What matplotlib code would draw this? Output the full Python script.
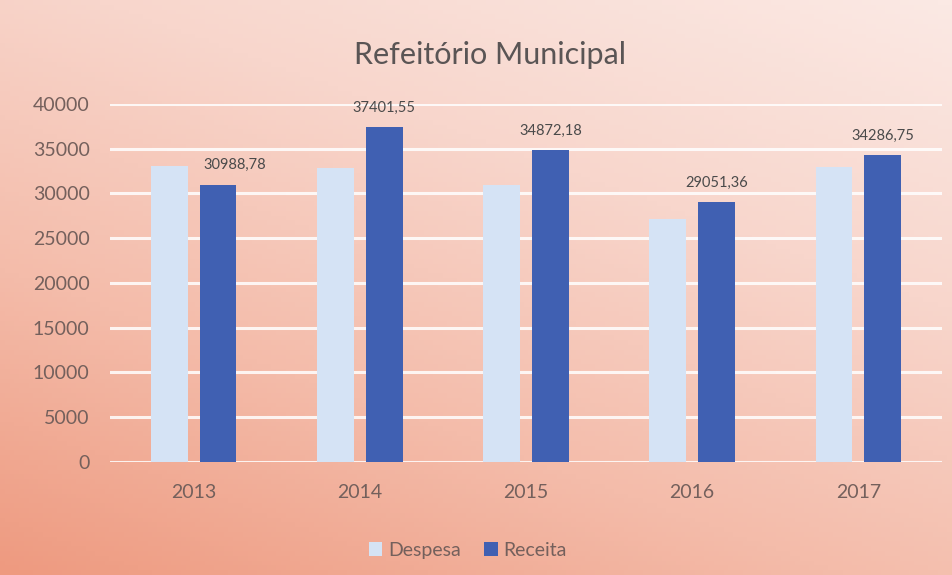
import numpy as np
import matplotlib
matplotlib.use("Agg")
import matplotlib.pyplot as plt
from matplotlib.colors import LinearSegmentedColormap

plt.rcParams['font.family'] = ['Lato', 'DejaVu Sans']

years = ["2013", "2014", "2015", "2016", "2017"]
despesa = [33100, 32800, 31000, 27200, 33000]
receita = [30988.78, 37401.55, 34872.18, 29051.36, 34286.75]
yticks = [0, 5000, 10000, 15000, 20000, 25000, 30000, 35000, 40000]

c_desp = '#D5E3F5'
c_rec = '#4060B2'
txt = '#74605C'

fig = plt.figure(figsize=(9.52, 5.75), dpi=100)

# gradient background: light at top / right, salmon at bottom-left
bg = fig.add_axes([0, 0, 1, 1], zorder=-10)
nx, ny = 200, 120
xx, yy = np.meshgrid(np.linspace(0, 1, nx), np.linspace(0, 1, ny))  # yy: 0 bottom, 1 top
d = 0.45 * (1 - xx) + 0.75 * (1 - yy)
d = np.clip(d / 1.2, 0, 1)
cmap = LinearSegmentedColormap.from_list('bg', ['#FBE9E4', '#F8D6CC', '#F4BCAA', '#EE9A80'])
bg.imshow(d, cmap=cmap, aspect='auto', extent=[0, 1, 0, 1], origin='lower', vmin=0, vmax=1)
bg.set_axis_off()

ax = fig.add_axes([0.116, 0.197, 0.873, 0.622])
ax.set_facecolor('none')
x = np.arange(len(years))
w = 0.222
off = 0.147
ax.bar(x - off, despesa, w, color=c_desp, label='Despesa', zorder=3)
ax.bar(x + off, receita, w, color=c_rec, label='Receita', zorder=3)

for i, v in enumerate(receita):
    lab = f"{v:.2f}".replace('.', ',')
    dx = 12 if i == 0 else 0
    ax.annotate(lab, (x[i] + off, v), xytext=(dx, 9), textcoords='offset points',
                ha='center', va='bottom', fontsize=10.5, color='#4A4A4A')

ax.set_xlim(-0.5, len(years) - 0.5)
ax.set_ylim(0, 40000)
ax.set_yticks(yticks)
ax.set_yticklabels([str(v) for v in yticks])
ax.set_xticks(x)
ax.set_xticklabels(years)
ax.tick_params(axis='both', length=0, labelsize=14, labelcolor=txt)
ax.tick_params(axis='y', pad=15)
ax.tick_params(axis='x', pad=16)
ax.grid(axis='y', color='white', linewidth=2.2, alpha=0.85, zorder=1)
for s in ax.spines.values():
    s.set_visible(False)

fig.text(0.515, 0.905, "Refeitório Municipal", ha='center', va='center',
         fontsize=22, color='#5A5555')

leg = ax.legend(loc='upper center', bbox_to_anchor=(0.43, -0.175), ncol=2, frameon=False,
                fontsize=14, handlelength=0.7, handleheight=0.7, handletextpad=0.3,
                columnspacing=1.2)
for t_ in leg.get_texts():
    t_.set_color(txt)

fig.savefig('out.png', dpi=100)
